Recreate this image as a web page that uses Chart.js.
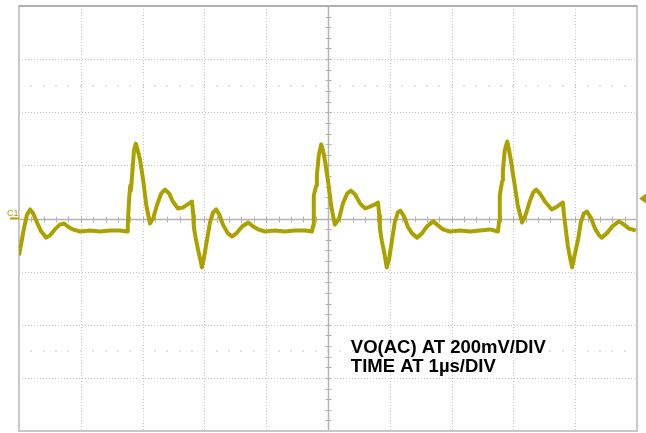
<!DOCTYPE html>
<html lang="en">
<head>
    <meta charset="UTF-8">
    <title>VO(AC) ripple</title>
    <script src="https://cdn.jsdelivr.net/npm/chart.js"></script>
    <style>
        html, body { margin: 0; padding: 0; background: #fff; }
        #wrap { width: 646px; height: 433px; position: relative; }
    </style>
</head>
<body>
<div id="wrap"><canvas id="scope"></canvas></div>
<script>
    // time in us, voltage in mV (200 mV/div, 1 us/div)
    var timeUs = [
        0.00, 0.03, 0.08, 0.13, 0.18, 0.23, 0.29, 0.36, 0.44, 0.50, 0.58, 0.66, 0.73, 0.79, 0.87, 0.99, 1.15, 1.31, 1.47, 1.63, 1.75,
        1.76, 1.78, 1.80, 1.81, 1.83, 1.86, 1.89, 1.93, 1.96, 2.01, 2.06, 2.12, 2.17, 2.23, 2.30, 2.36, 2.43, 2.49, 2.57, 2.65, 2.73, 2.80,
        2.82, 2.83, 2.86, 2.90, 2.93, 2.96, 2.99, 3.04, 3.09, 3.14, 3.19, 3.24, 3.30, 3.38, 3.45, 3.53, 3.61, 3.71, 3.79, 3.87, 3.98, 4.14, 4.30, 4.47, 4.63, 4.74,
        4.76, 4.77, 4.81, 4.82, 4.85, 4.89, 4.92, 4.95, 5.00, 5.05, 5.11, 5.18, 5.24, 5.31, 5.37, 5.44, 5.52, 5.60, 5.68, 5.76, 5.81,
        5.83, 5.84, 5.87, 5.91, 5.95, 5.99, 6.04, 6.08, 6.13, 6.17, 6.23, 6.29, 6.36, 6.44, 6.52, 6.60, 6.70, 6.78, 6.86, 6.97, 7.14, 7.30, 7.46, 7.62, 7.75,
        7.77, 7.78, 7.82, 7.83, 7.86, 7.90, 7.93, 7.96, 8.01, 8.07, 8.14, 8.20, 8.27, 8.32, 8.37, 8.43, 8.51, 8.62, 8.71, 8.77, 8.80,
        8.82, 8.85, 8.88, 8.92, 8.95, 8.99, 9.05, 9.09, 9.14, 9.19, 9.26, 9.32, 9.39, 9.43, 9.51, 9.60, 9.71, 9.79, 9.87, 9.98
    ];
    var voMv = [
        -139, -102, -38, 15, 34, 19, -15, -49, -72, -64, -41, -23, -19, -30, -41, -49, -45, -49, -45, -45, -49,
        -26, 68, 124, 105, 162, 256, 282, 249, 219, 143, 49, -19, 0, 49, 94, 109, 94, 64, 38, 41, 53, 64,
        11, -34, -75, -121, -151, -184, -151, -83, -15, 23, 34, 15, -23, -56, -68, -53, -30, -15, -30, -41, -49, -45, -49, -45, -45, -49,
        -26, 87, 124, 162, 237, 279, 256, 219, 143, 49, -23, 0, 56, 94, 105, 90, 56, 38, 45, 53, 60,
        11, -38, -83, -128, -184, -151, -75, -15, 23, 30, 8, -30, -56, -72, -56, -30, -11, -26, -41, -49, -45, -49, -45, -41, -49,
        -8, 87, 143, 181, 256, 290, 256, 219, 143, 49, -15, 15, 68, 98, 109, 94, 64, 34, 45, 56, 60,
        11, -45, -102, -151, -184, -139, -75, -15, 19, 26, 0, -38, -64, -72, -56, -30, -11, -23, -38, -45
    ];
    var xDivs = [0, 1, 2, 3, 4, 5, 6, 7, 8, 9, 10];
    var yDivs = [-800, -600, -400, -200, 0, 200, 400, 600, 800];
    var triggerMv = 75;
    var noteLines = ['VO(AC) AT 200mV/DIV', 'TIME AT 1\u00b5s/DIV'];

    var traceColor = '#aba200';

    var points = timeUs.map(function(t, i) { return { x: t, y: voMv[i] }; });

    // graticule, center axes with minor ticks, markers and the note
    var scopePlugin = {
        id: 'scope',
        beforeDatasetsDraw: function(chart) {
            var ctx = chart.ctx, a = chart.chartArea;
            var xs = chart.scales.x, ys = chart.scales.y;
            ctx.save();
            // dotted grid
            ctx.strokeStyle = '#c4c4c4';
            ctx.lineWidth = 1;
            ctx.setLineDash([1, 2]);
            xDivs.forEach(function(v) {
                if (v === 0 || v === 5 || v === 10) return;
                var px = Math.round(xs.getPixelForValue(v)) + 0.5;
                ctx.beginPath(); ctx.moveTo(px, a.top); ctx.lineTo(px, a.bottom); ctx.stroke();
            });
            yDivs.forEach(function(v) {
                if (v === 0 || v === -800 || v === 800) return;
                var py = Math.round(ys.getPixelForValue(v)) + 0.5;
                ctx.beginPath(); ctx.moveTo(a.left, py); ctx.lineTo(a.right, py); ctx.stroke();
            });
            ctx.setLineDash([]);
            // faint dot rows at +/-2.5 div
            ctx.fillStyle = '#e2e2e2';
            [500, -500].forEach(function(v) {
                var py = Math.round(ys.getPixelForValue(v));
                for (var t = 0.2; t < 10; t += 0.2) {
                    var px = Math.round(xs.getPixelForValue(t));
                    ctx.fillRect(px - 1, py - 1, 2, 2);
                }
            });
            // center axes
            var cx = Math.round(xs.getPixelForValue(5)) + 0.5;
            var cy = Math.round(ys.getPixelForValue(0)) + 0.5;
            ctx.strokeStyle = '#b4b4b4';
            ctx.lineWidth = 1.5;
            ctx.beginPath(); ctx.moveTo(a.left, cy); ctx.lineTo(a.right, cy); ctx.stroke();
            ctx.beginPath(); ctx.moveTo(cx, a.top); ctx.lineTo(cx, a.bottom); ctx.stroke();
            ctx.lineWidth = 1;
            for (var t = 0.2; t < 10; t += 0.2) {
                var tx = Math.round(xs.getPixelForValue(t)) + 0.5;
                ctx.beginPath(); ctx.moveTo(tx, cy - 3); ctx.lineTo(tx, cy + 3); ctx.stroke();
            }
            for (var m = -760; m < 800; m += 40) {
                var ty = Math.round(ys.getPixelForValue(m)) + 0.5;
                ctx.beginPath(); ctx.moveTo(cx - 3, ty); ctx.lineTo(cx + 3, ty); ctx.stroke();
            }
            // frame
            ctx.strokeStyle = '#c8c8c8';
            ctx.lineWidth = 2;
            ctx.strokeRect(a.left, a.top, a.right - a.left, a.bottom - a.top);
            ctx.strokeStyle = '#a8a8a8';
            ctx.lineWidth = 1.5;
            ctx.beginPath(); ctx.moveTo(a.left, a.top); ctx.lineTo(a.right, a.top); ctx.stroke();
            ctx.restore();
        },
        afterDatasetsDraw: function(chart) {
            var ctx = chart.ctx, a = chart.chartArea;
            var xs = chart.scales.x, ys = chart.scales.y;
            ctx.save();
            // C1 ground marker
            var gy = ys.getPixelForValue(0);
            ctx.strokeStyle = traceColor;
            ctx.lineWidth = 2;
            ctx.beginPath(); ctx.moveTo(a.left - 9, gy); ctx.lineTo(a.left, gy); ctx.stroke();
            ctx.fillStyle = traceColor;
            ctx.font = '9px "Liberation Sans", Arial, sans-serif';
            ctx.textAlign = 'left';
            ctx.textBaseline = 'alphabetic';
            ctx.fillText('C1', a.left - 12, gy - 3);
            // trigger level marker
            var ty = ys.getPixelForValue(triggerMv);
            ctx.beginPath();
            ctx.moveTo(a.right + 2, ty);
            ctx.lineTo(a.right + 9, ty - 5);
            ctx.lineTo(a.right + 9, ty + 5);
            ctx.closePath();
            ctx.fill();
            // note
            ctx.fillStyle = '#000';
            ctx.font = 'bold 18.5px "Liberation Sans", Arial, sans-serif';
            var nx = xs.getPixelForValue(5.37);
            ctx.fillText(noteLines[0], nx, ys.getPixelForValue(-508));
            ctx.fillText(noteLines[1], nx, ys.getPixelForValue(-576));
            ctx.restore();
        }
    };

    var chart = new Chart(document.getElementById('scope'), {
        type: 'scatter',
        data: {
            datasets: [{
                label: 'VO(AC)',
                data: points,
                showLine: true,
                borderColor: traceColor,
                borderWidth: 4,
                borderJoinStyle: 'round',
                pointRadius: 0,
                tension: 0
            }]
        },
        options: {
            responsive: true,
            maintainAspectRatio: false,
            animation: false,
            layout: { padding: { left: 19, top: 6, right: 9, bottom: 2 } },
            plugins: { legend: { display: false }, tooltip: { enabled: false } },
            scales: {
                x: { type: 'linear', min: 0, max: 10, display: false },
                y: { type: 'linear', min: -800, max: 800, display: false }
            }
        },
        plugins: [scopePlugin]
    });
</script>
</body>
</html>
